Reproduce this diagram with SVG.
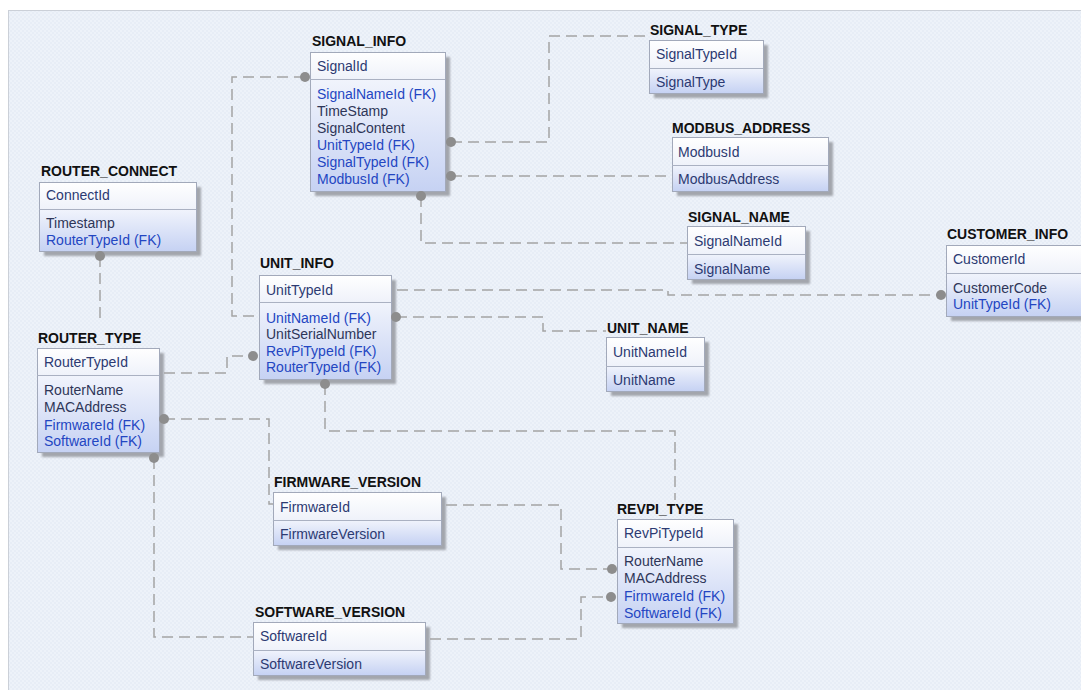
<svg xmlns="http://www.w3.org/2000/svg" width="1081" height="690" viewBox="0 0 1081 690">
  <defs>
    <pattern id="grain" width="4" height="4" patternUnits="userSpaceOnUse">
      <rect width="4" height="4" fill="#edf2f9"/>
      <rect width="2" height="2" fill="#e7edf6"/>
      <rect x="2" y="2" width="2" height="2" fill="#e7edf6"/>
    </pattern>
    <linearGradient id="hdrFill" x1="0" y1="0" x2="0" y2="1">
      <stop offset="0" stop-color="#ffffff"/>
      <stop offset="1" stop-color="#eff2fa"/>
    </linearGradient>
    <linearGradient id="bodyFill" x1="0" y1="0" x2="0" y2="1">
      <stop offset="0" stop-color="#f1f4fc"/>
      <stop offset="1" stop-color="#c6d2f3"/>
    </linearGradient>
    <filter id="soft" x="-10%" y="-10%" width="130%" height="130%">
      <feGaussianBlur stdDeviation="1"/>
    </filter>
  </defs>
  <style>
    .title { font-family: "Liberation Sans", Arial, sans-serif; font-size: 14px; font-weight: bold; fill: #111111; }
    .pk { font-family: "Liberation Sans", Arial, sans-serif; font-size: 14px; fill: #2c3a72; }
    .at { font-family: "Liberation Sans", Arial, sans-serif; font-size: 14px; fill: #2e3658; }
    .fk { font-family: "Liberation Sans", Arial, sans-serif; font-size: 14px; fill: #2346c2; }
    .shadow { fill: #a3a6ad; filter: url(#soft); }
    .hdr { fill: url(#hdrFill); }
    .body { fill: url(#bodyFill); }
    .frame { fill: none; stroke: #a2a9ba; stroke-width: 1; }
    .div { stroke: #aab1c2; stroke-width: 1; }
    .link { fill: none; stroke: #a4a4a4; stroke-width: 1.5; stroke-dasharray: 11 6; }
    .dot { fill: #8d8d8d; }
  </style>

  <!-- canvas -->
  <rect x="0" y="0" width="1081" height="690" fill="#ffffff"/>
  <rect x="8.5" y="10.5" width="1073" height="680" fill="url(#grain)" stroke="#cbd0d8" stroke-width="1"/>

  <!-- tables -->
  <g id="signal_info">
    <rect class="shadow" x="315" y="57" width="135" height="139"/>
    <rect class="hdr" x="310" y="52" width="135" height="27"/>
    <rect class="body" x="310" y="79" width="135" height="112"/>
    <rect class="frame" x="310.5" y="52.5" width="135" height="139"/>
    <line class="div" x1="310" y1="79.5" x2="445" y2="79.5"/>
    <text class="title" x="312" y="46">SIGNAL_INFO</text>
    <text class="pk" x="317" y="71">SignalId</text>
    <text class="fk" x="317" y="99">SignalNameId (FK)</text>
    <text class="at" x="317" y="116">TimeStamp</text>
    <text class="at" x="317" y="133">SignalContent</text>
    <text class="fk" x="317" y="150">UnitTypeId (FK)</text>
    <text class="fk" x="317" y="167">SignalTypeId (FK)</text>
    <text class="fk" x="317" y="184">ModbusId (FK)</text>
  </g>

  <g id="signal_type">
    <rect class="shadow" x="654" y="45" width="114" height="53"/>
    <rect class="hdr" x="649" y="40" width="114" height="28"/>
    <rect class="body" x="649" y="68" width="114" height="25"/>
    <rect class="frame" x="649.5" y="40.5" width="114" height="53"/>
    <line class="div" x1="649" y1="68.5" x2="763" y2="68.5"/>
    <text class="title" x="650" y="35">SIGNAL_TYPE</text>
    <text class="pk" x="656" y="59">SignalTypeId</text>
    <text class="pk" x="656" y="87">SignalType</text>
  </g>

  <g id="modbus_address">
    <rect class="shadow" x="677" y="142" width="156" height="54"/>
    <rect class="hdr" x="672" y="137" width="156" height="28"/>
    <rect class="body" x="672" y="165" width="156" height="26"/>
    <rect class="frame" x="672.5" y="137.5" width="156" height="54"/>
    <line class="div" x1="672" y1="165.5" x2="828" y2="165.5"/>
    <text class="title" x="672" y="133">MODBUS_ADDRESS</text>
    <text class="pk" x="678" y="157">ModbusId</text>
    <text class="pk" x="678" y="184">ModbusAddress</text>
  </g>

  <g id="signal_name">
    <rect class="shadow" x="692" y="231" width="118" height="53"/>
    <rect class="hdr" x="687" y="226" width="118" height="28"/>
    <rect class="body" x="687" y="254" width="118" height="25"/>
    <rect class="frame" x="687.5" y="226.5" width="118" height="53"/>
    <line class="div" x1="687" y1="254.5" x2="805" y2="254.5"/>
    <text class="title" x="688" y="222">SIGNAL_NAME</text>
    <text class="pk" x="694" y="246">SignalNameId</text>
    <text class="pk" x="694" y="274">SignalName</text>
  </g>

  <g id="customer_info">
    <rect class="shadow" x="951" y="250" width="140" height="71"/>
    <rect class="hdr" x="946" y="245" width="140" height="28"/>
    <rect class="body" x="946" y="273" width="140" height="43"/>
    <rect class="frame" x="946.5" y="245.5" width="140" height="71"/>
    <line class="div" x1="946" y1="273.5" x2="1086" y2="273.5"/>
    <text class="title" x="947" y="239">CUSTOMER_INFO</text>
    <text class="pk" x="953" y="264">CustomerId</text>
    <text class="at" x="953" y="293">CustomerCode</text>
    <text class="fk" x="953" y="309">UnitTypeId (FK)</text>
  </g>

  <g id="router_connect">
    <rect class="shadow" x="44" y="187" width="157" height="69"/>
    <rect class="hdr" x="39" y="182" width="157" height="27"/>
    <rect class="body" x="39" y="209" width="157" height="42"/>
    <rect class="frame" x="39.5" y="182.5" width="157" height="69"/>
    <line class="div" x1="39" y1="209.5" x2="196" y2="209.5"/>
    <text class="title" x="41" y="176">ROUTER_CONNECT</text>
    <text class="pk" x="46" y="200">ConnectId</text>
    <text class="at" x="46" y="228">Timestamp</text>
    <text class="fk" x="46" y="245">RouterTypeId (FK)</text>
  </g>

  <g id="router_type">
    <rect class="shadow" x="42" y="353" width="122" height="104"/>
    <rect class="hdr" x="37" y="348" width="122" height="27"/>
    <rect class="body" x="37" y="375" width="122" height="77"/>
    <rect class="frame" x="37.5" y="348.5" width="122" height="104"/>
    <line class="div" x1="37" y1="375.5" x2="159" y2="375.5"/>
    <text class="title" x="38" y="343">ROUTER_TYPE</text>
    <text class="pk" x="44" y="367">RouterTypeId</text>
    <text class="at" x="44" y="395">RouterName</text>
    <text class="at" x="44" y="412">MACAddress</text>
    <text class="fk" x="44" y="430">FirmwareId (FK)</text>
    <text class="fk" x="44" y="446">SoftwareId (FK)</text>
  </g>

  <g id="unit_info">
    <rect class="shadow" x="264" y="280" width="132" height="104"/>
    <rect class="hdr" x="259" y="275" width="132" height="27"/>
    <rect class="body" x="259" y="302" width="132" height="77"/>
    <rect class="frame" x="259.5" y="275.5" width="132" height="104"/>
    <line class="div" x1="259" y1="302.5" x2="391" y2="302.5"/>
    <text class="title" x="260" y="268">UNIT_INFO</text>
    <text class="pk" x="266" y="295">UnitTypeId</text>
    <text class="fk" x="266" y="323">UnitNameId (FK)</text>
    <text class="at" x="266" y="339">UnitSerialNumber</text>
    <text class="fk" x="266" y="356">RevPiTypeId (FK)</text>
    <text class="fk" x="266" y="372">RouterTypeId (FK)</text>
  </g>

  <g id="unit_name">
    <rect class="shadow" x="611" y="342" width="98" height="54"/>
    <rect class="hdr" x="606" y="337" width="98" height="29"/>
    <rect class="body" x="606" y="366" width="98" height="25"/>
    <rect class="frame" x="606.5" y="337.5" width="98" height="54"/>
    <line class="div" x1="606" y1="366.5" x2="704" y2="366.5"/>
    <text class="title" x="607" y="333">UNIT_NAME</text>
    <text class="pk" x="613" y="357">UnitNameId</text>
    <text class="pk" x="613" y="385">UnitName</text>
  </g>

  <g id="firmware_version">
    <rect class="shadow" x="278" y="497" width="168" height="53"/>
    <rect class="hdr" x="273" y="492" width="168" height="28"/>
    <rect class="body" x="273" y="520" width="168" height="25"/>
    <rect class="frame" x="273.5" y="492.5" width="168" height="53"/>
    <line class="div" x1="273" y1="520.5" x2="441" y2="520.5"/>
    <text class="title" x="274" y="487">FIRMWARE_VERSION</text>
    <text class="pk" x="280" y="512">FirmwareId</text>
    <text class="pk" x="280" y="539">FirmwareVersion</text>
  </g>

  <g id="revpi_type">
    <rect class="shadow" x="622" y="524" width="116" height="104"/>
    <rect class="hdr" x="617" y="519" width="116" height="28"/>
    <rect class="body" x="617" y="547" width="116" height="76"/>
    <rect class="frame" x="617.5" y="519.5" width="116" height="104"/>
    <line class="div" x1="617" y1="547.5" x2="733" y2="547.5"/>
    <text class="title" x="617" y="514">REVPI_TYPE</text>
    <text class="pk" x="624" y="538">RevPiTypeId</text>
    <text class="at" x="624" y="566">RouterName</text>
    <text class="at" x="624" y="583">MACAddress</text>
    <text class="fk" x="624" y="601">FirmwareId (FK)</text>
    <text class="fk" x="624" y="618">SoftwareId (FK)</text>
  </g>

  <g id="software_version">
    <rect class="shadow" x="258" y="627" width="172" height="53"/>
    <rect class="hdr" x="253" y="622" width="172" height="28"/>
    <rect class="body" x="253" y="650" width="172" height="25"/>
    <rect class="frame" x="253.5" y="622.5" width="172" height="53"/>
    <line class="div" x1="253" y1="650.5" x2="425" y2="650.5"/>
    <text class="title" x="255" y="617">SOFTWARE_VERSION</text>
    <text class="pk" x="260" y="641">SoftwareId</text>
    <text class="pk" x="260" y="669">SoftwareVersion</text>
  </g>

  <!-- relationships: dashed routes, dot marks the referencing end -->
  <g id="connectors">
    <path class="link" d="M305,77 H232 V316 H259"/>
    <circle class="dot" cx="305" cy="77" r="5"/>

    <path class="link" d="M451,142 H549 V36 H647"/>
    <circle class="dot" cx="451" cy="142" r="5"/>

    <path class="link" d="M451,176 H672"/>
    <circle class="dot" cx="451" cy="176" r="5"/>

    <path class="link" d="M421,196 V243 H687"/>
    <circle class="dot" cx="421" cy="196" r="5"/>

    <path class="link" d="M397,290 H668 V295 H941"/>
    <circle class="dot" cx="941" cy="295" r="5"/>

    <path class="link" d="M396,317 H543 V331 H606"/>
    <circle class="dot" cx="396" cy="317" r="5"/>

    <path class="link" d="M325,384 V431 H675 V500"/>
    <circle class="dot" cx="325" cy="384" r="5"/>

    <path class="link" d="M100,256 V323"/>
    <circle class="dot" cx="100" cy="256" r="5"/>

    <path class="link" d="M164,373 H227 V356 H253"/>
    <circle class="dot" cx="253" cy="356" r="5"/>

    <path class="link" d="M164,419 H269 V504 H273"/>
    <circle class="dot" cx="164" cy="419" r="5"/>

    <path class="link" d="M154,458 V637 H253"/>
    <circle class="dot" cx="154" cy="458" r="5"/>

    <path class="link" d="M446,505 H561 V569 H612"/>
    <circle class="dot" cx="612" cy="569" r="5"/>

    <path class="link" d="M430,639 H581 V597 H611"/>
    <circle class="dot" cx="611" cy="597" r="5"/>
  </g>
</svg>
